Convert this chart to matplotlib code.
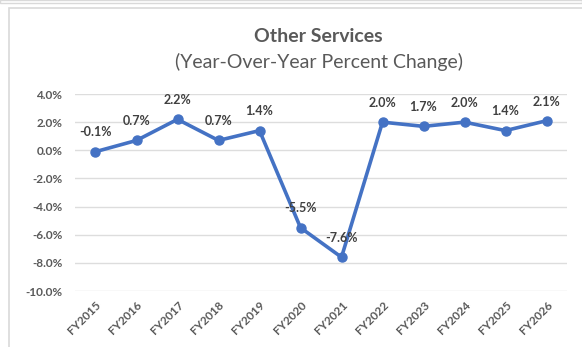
import matplotlib
matplotlib.use("Agg")
import matplotlib.pyplot as plt
from matplotlib.patches import Rectangle
from matplotlib.ticker import FuncFormatter

years = ["FY2015", "FY2016", "FY2017", "FY2018", "FY2019", "FY2020",
         "FY2021", "FY2022", "FY2023", "FY2024", "FY2025", "FY2026"]
pct_change = [-0.1, 0.7, 2.2, 0.7, 1.4, -5.5, -7.6, 2.0, 1.7, 2.0, 1.4, 2.1]
y_ticks = [4, 2, 0, -2, -4, -6, -8, -10]

plt.rcParams["font.family"] = ["Lato", "DejaVu Sans"]
text_color = "#595959"
line_color = "#4472C4"

fig = plt.figure(figsize=(5.82, 3.47), dpi=100)
fig.patch.set_facecolor("white")

# chart frame
fig.patches.append(Rectangle((9 / 582, -0.05), 1.0, 1 - 8 / 347 + 0.05,
                             transform=fig.transFigure, fill=False,
                             edgecolor="#D9D9D9", linewidth=1.2))
fig.patches.append(Rectangle((0, 1 - 3 / 347), 1.0, 0.01,
                             transform=fig.transFigure, fill=False,
                             edgecolor="#D9D9D9", linewidth=1.0))

ax = fig.add_axes([75 / 582, 1 - 291 / 347, 492 / 582, 197 / 347])
x = list(range(len(years)))
ax.plot(x, pct_change, color=line_color, linewidth=2.6, marker="o",
        markersize=6.5, zorder=3)

ax.set_xlim(-0.5, len(years) - 0.5)
ax.set_ylim(-10, 4)
ax.set_yticks(y_ticks)
ax.yaxis.set_major_formatter(FuncFormatter(lambda v, p: f"{v:.1f}%"))
ax.set_xticks(x)
ax.set_xticklabels(years, rotation=45, ha="right", rotation_mode="anchor")
ax.tick_params(axis="both", length=0, colors=text_color, labelsize=8.5)
for lbl in ax.get_xticklabels() + ax.get_yticklabels():
    lbl.set_fontweight("bold")
ax.tick_params(axis="y", pad=9)
ax.tick_params(axis="x", pad=6)
ax.grid(axis="y", color="#DDDDDD", linewidth=1.0)
ax.set_axisbelow(True)
for s in ax.spines.values():
    s.set_visible(False)

for xi, v in zip(x, pct_change):
    ax.annotate(f"{v:.1f}%", (xi, v), xytext=(0, 9.5), textcoords="offset points",
                ha="center", va="bottom", fontsize=9, fontweight="bold",
                color="#404040", zorder=4)

fig.text(318 / 582, 1 - 37 / 347, "Other Services", ha="center", va="center",
         fontsize=14, fontweight="bold", color=text_color)
fig.text(319 / 582, 1 - 62 / 347, "(Year-Over-Year Percent Change)", ha="center",
         va="center", fontsize=14, color=text_color)

fig.savefig("out.png", dpi=100)
